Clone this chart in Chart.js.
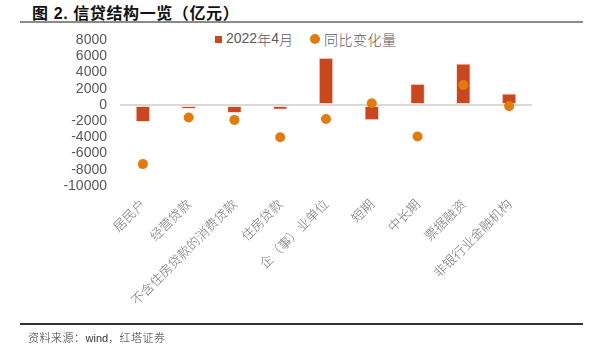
<!DOCTYPE html>
<html>
<head>
<meta charset="utf-8">
<script src="https://cdn.jsdelivr.net/npm/chart.js@4.4.1/dist/chart.umd.min.js"></script>
<style>
  html, body { margin:0; padding:0; background:#fff; }
  #wrap { position:relative; width:596px; height:353px; overflow:hidden; font-family:"Liberation Sans", Arial, "Noto Sans CJK SC", sans-serif; }
  #title { position:absolute; left:32px; top:0px; font-size:16px; font-weight:bold; color:#111; font-family:"Liberation Sans", "Noto Sans CJK SC", sans-serif; white-space:nowrap; letter-spacing:0.6px; }
  #tline { position:absolute; left:20px; top:21px; width:563px; height:2px; background:#8a8a8a; }
  #fline { position:absolute; left:20px; top:323px; width:563px; height:1.5px; background:#333; }
  #foot { position:absolute; left:28px; top:329px; font-size:11px; color:#333; white-space:nowrap; font-family:"Noto Sans CJK SC", sans-serif; font-weight:300; letter-spacing:0.5px; }
  #foot .w { font-family:"Liberation Sans", Arial, sans-serif; font-weight:normal; letter-spacing:0; }
  #legend { position:absolute; left:215px; top:29px; font-size:14px; color:#595959; white-space:nowrap; }
  #legend span { display:inline-block; vertical-align:middle; }
  .sq { width:7px; height:7px; background:#C9471F; margin-right:4px; }
  .dot { width:10px; height:10px; border-radius:50%; background:#E07B10; margin-left:17px; margin-right:4px; }
  .cn { font-family:"Noto Sans CJK SC", sans-serif; font-weight:300; }
  #cv { position:absolute; left:0; top:0; }
</style>
</head>
<body>
<div id="wrap">
  <div id="title">图 2. 信贷结构一览（亿元）</div>
  <div id="tline"></div>
  <div id="legend"><span class="sq"></span><span>2022<span class="cn">年</span>4<span class="cn">月</span></span><span class="dot"></span><span class="cn" style="letter-spacing:0.5px">同比变化量</span></div>
  <canvas id="cv" width="596" height="353"></canvas>
  <div id="fline"></div>
  <div id="foot">资料来源：<span class="w">wind</span>，红塔证券</div>
</div>
<script>
const categories = ["居民户","经营贷款","不含住房贷款的消费贷款","住房贷款","企（事）业单位","短期","中长期","票据融资","非银行业金融机构"];
const seriesApr2022 = [-2100, -500, -1000, -600, 5800, -1900, 2600, 5100, 1400];
const seriesYoYChange = [-7300, -1550, -1850, -4000, -1750, 200, -3900, 2450, -150];
const yTicks = [8000, 6000, 4000, 2000, 0, -2000, -4000, -6000, -8000, -10000];
const seriesNames = ["2022年4月", "同比变化量"];

new Chart(document.getElementById('cv'), {
  data: {
    labels: categories,
    datasets: [
      {
        type: 'line',
        label: seriesNames[1],
        data: seriesYoYChange,
        showLine: false,
        pointRadius: 5,
        pointHoverRadius: 5,
        pointBackgroundColor: '#E07B10',
        pointBorderColor: '#E07B10',
        pointBorderWidth: 0,
        order: 0
      },
      {
        type: 'bar',
        label: seriesNames[0],
        data: seriesApr2022,
        backgroundColor: '#C9471F',
        borderColor: 'rgba(255,220,210,0.9)',
        borderWidth: 1,
        borderSkipped: false,
        barPercentage: 0.32,
        categoryPercentage: 1.0,
        order: 1
      }
    ]
  },
  options: {
    responsive: false,
    animation: false,
    devicePixelRatio: 1,
    layout: { padding: { left: 0, right: 64, top: 40, bottom: 30 } },
    plugins: { legend: { display: false }, tooltip: { enabled: false } },
    scales: {
      x: {
        offset: true,
        grid: { display: false },
        border: { display: false },
        ticks: {
          minRotation: 45, maxRotation: 45, autoSkip: false,
          color: '#777',
          padding: 2,
          font: { family: '"Noto Sans CJK SC", sans-serif', size: 13, weight: '300' }
        },
        afterFit(scale) { scale.height = 137; }
      },
      y: {
        min: -10000, max: 8000,
        afterBuildTicks(scale) { scale.ticks = yTicks.map(v => ({ value: v })); },
        grid: {
          drawTicks: false,
          color: ctx => (ctx.tick && ctx.tick.value === 0) ? '#d9d9d9' : 'rgba(0,0,0,0)',
          lineWidth: 2
        },
        border: { display: false },
        ticks: {
          autoSkip: false,
          color: '#595959',
          padding: 13,
          callback: v => String(v),
          font: { family: '"Liberation Sans", Arial, sans-serif', size: 14, lineHeight: 1.0 }
        },
        afterFit(scale) { scale.width = 120; }
      }
    }
  }
});
</script>
</body>
</html>
